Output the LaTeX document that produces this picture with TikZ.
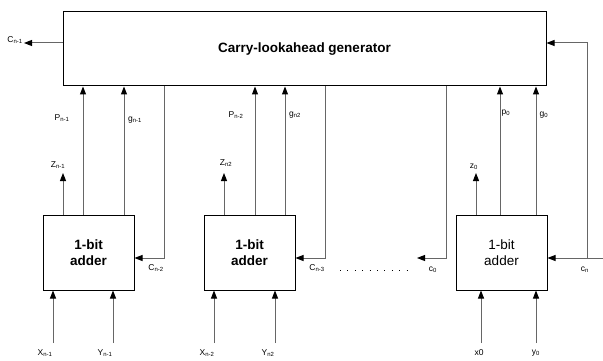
\documentclass[tikz,border=0pt]{standalone}
\usepackage{fontspec}
\setmainfont{Liberation Sans}
\usetikzlibrary{arrows.meta}

\tikzset{
  unitbox/.style={draw, line width=1pt, inner sep=0pt},
  bigtext/.style={font=\fontsize{13.5}{16.5}\selectfont\bfseries, align=center},
  sig/.style={draw=black!60, line width=1pt, -{Triangle[length=8pt,width=6pt,black]}},
  wire/.style={draw=black!60, line width=1pt},
  lbl/.style={font=\fontsize{8.5}{9}\selectfont, inner sep=0pt},
}
\newcommand{\bitname}[2]{#1\textsubscript{#2}}

\begin{document}
\begin{tikzpicture}[x=1pt,y=-1pt]
\useasboundingbox (0,0) rectangle (603,361);

% generator and adders
\node[unitbox, bigtext, minimum width=483, minimum height=74] (gen) at (304.5,49) {Carry-lookahead generator};
\node[unitbox, bigtext, minimum width=91, minimum height=75] (add1) at (88.5,252.5) {1-bit\\adder};
\node[unitbox, bigtext, minimum width=91, minimum height=75] (add2) at (249.5,252.5) {1-bit\\adder};
\node[unitbox, bigtext, font=\fontsize{13.5}{16.5}\selectfont, minimum width=91, minimum height=75] (add3) at (501.5,252.5) {1-bit\\adder};

% carry out
\coordinate (cout) at (24,43);
\draw[sig] (gen.west |- cout) -- (cout);
\node[lbl] (lcout) at (15,40) {\bitname{C}{n-1}};

% stage n-1
\coordinate (z1) at (63,173);
\coordinate (p1) at (83,0);
\coordinate (g1) at (124,0);
\coordinate (cin1) at (164,258);
\coordinate (x1) at (53,343);
\coordinate (y1) at (113,343);
\draw[sig] (add1.north -| z1) -- (z1);
\draw[sig] (add1.north -| p1) -- (gen.south -| p1);
\draw[sig] (add1.north -| g1) -- (gen.south -| g1);
\draw[sig] (gen.south -| cin1) |- (add1.east |- cin1);
\draw[sig] (x1) -- (add1.south -| x1);
\draw[sig] (y1) -- (add1.south -| y1);
\node[lbl] (lz1) at (58,165) {\bitname{Z}{n-1}};
\node[lbl] (lp1) at (62,118) {\bitname{P}{n-1}};
\node[lbl] (lg1) at (135,120) {\bitname{g}{n-1}};
\node[lbl] (lc1) at (156,268) {\bitname{C}{n-2}};
\node[lbl] (lx1) at (45,353) {\bitname{X}{n-1}};
\node[lbl] (ly1) at (105,353) {\bitname{Y}{n-1}};

% stage n-2
\coordinate (z2) at (224,173);
\coordinate (p2) at (255,0);
\coordinate (g2) at (285,0);
\coordinate (cin2) at (325,258);
\coordinate (x2) at (214,343);
\coordinate (y2) at (275,343);
\draw[sig] (add2.north -| z2) -- (z2);
\draw[sig] (add2.north -| p2) -- (gen.south -| p2);
\draw[sig] (add2.north -| g2) -- (gen.south -| g2);
\draw[sig] (gen.south -| cin2) |- (add2.east |- cin2);
\draw[sig] (x2) -- (add2.south -| x2);
\draw[sig] (y2) -- (add2.south -| y2);
\node[lbl] (lz2) at (226,163) {\bitname{Z}{n2}};
\node[lbl] (lp2) at (236,115) {\bitname{P}{n-2}};
\node[lbl] (lg2) at (295,115) {\bitname{g}{n2}};
\node[lbl] (lc2) at (317,268) {\bitname{C}{n-3}};
\node[lbl] (lx2) at (207,353) {\bitname{X}{n-2}};
\node[lbl] (ly2) at (268,353) {\bitname{Y}{n2}};

% dots between stages
\draw[line width=1pt, dash pattern=on 0.9pt off 6.5pt] (340,270) -- (412,270);

% stage 0
\coordinate (c0x) at (446,0);
\coordinate (c0) at (417,258);
\coordinate (z3) at (476,173);
\coordinate (p3) at (500,0);
\coordinate (g3) at (536,0);
\coordinate (x3) at (481,343);
\coordinate (y3) at (536,343);
\coordinate (cn) at (603,258);
\coordinate (fb) at (587,258);
\coordinate (fbtop) at (587,43);
\draw[sig] (gen.south -| c0x) |- (c0);
\draw[sig] (add3.north -| z3) -- (z3);
\draw[sig] (add3.north -| p3) -- (gen.south -| p3);
\draw[sig] (add3.north -| g3) -- (gen.south -| g3);
\draw[sig] (x3) -- (add3.south -| x3);
\draw[sig] (y3) -- (add3.south -| y3);
\draw[sig] (cn) -- (add3.east |- cn);
\draw[sig] (fb) -- (fbtop) -- (gen.east |- fbtop);
\node[lbl] (lc0) at (433,270) {\bitname{c}{0}};
\node[lbl] (lz3) at (474,167) {\bitname{z}{0}};
\node[lbl] (lp3) at (506,113) {\bitname{p}{0}};
\node[lbl] (lg3) at (544,115) {\bitname{g}{0}};
\node[lbl] (lcn) at (585,270) {\bitname{c}{n}};
\node[lbl] (lx3) at (479,353) {x0};
\node[lbl] (ly3) at (536,353) {\bitname{y}{0}};
\end{tikzpicture}
\end{document}
